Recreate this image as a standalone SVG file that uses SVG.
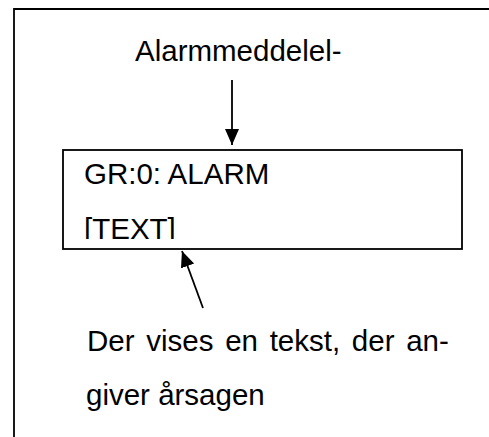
<svg xmlns="http://www.w3.org/2000/svg" width="489" height="437" viewBox="0 0 489 437">
  <style>
    .frame { fill: none; stroke: #000; stroke-width: 1.8; }
    .conn { fill: none; stroke: #000; stroke-width: 1.8; }
    .t { font-family: "Liberation Sans", Arial, sans-serif; font-size: 29.5px; fill: #000; }
  </style>
  <defs>
    <marker id="arrow" viewBox="0 0 16 16" refX="16" refY="8" markerWidth="16" markerHeight="16" markerUnits="userSpaceOnUse" orient="auto">
      <path d="M0,1 L16,8 L0,15 z" fill="#000"/>
    </marker>
    <clipPath id="clipText">
      <rect x="63" y="150" width="399" height="89"/>
    </clipPath>
  </defs>
  <rect width="489" height="437" fill="#fff"/>
  <g id="outer-frame">
    <path class="frame" d="M14,437 L14,9 L489,9"/>
  </g>
  <g id="title">
    <text class="t" x="135" y="61">Alarmmeddelel-</text>
  </g>
  <g id="display">
    <rect class="frame" x="63" y="150" width="399" height="99"/>
    <text class="t" x="84" y="184">GR:0: ALARM</text>
    <text class="t" x="84" y="238.5" clip-path="url(#clipText)">[TEXT]</text>
  </g>
  <g id="note">
    <text class="t" x="87" y="351" word-spacing="3.5">Der vises en tekst, der an-</text>
    <text class="t" x="86" y="405">giver årsagen</text>
  </g>
  <g id="connectors">
    <line class="conn" x1="232" y1="80" x2="232" y2="145" marker-end="url(#arrow)"/>
    <line class="conn" x1="203" y1="308" x2="182" y2="251" marker-end="url(#arrow)"/>
  </g>
</svg>
